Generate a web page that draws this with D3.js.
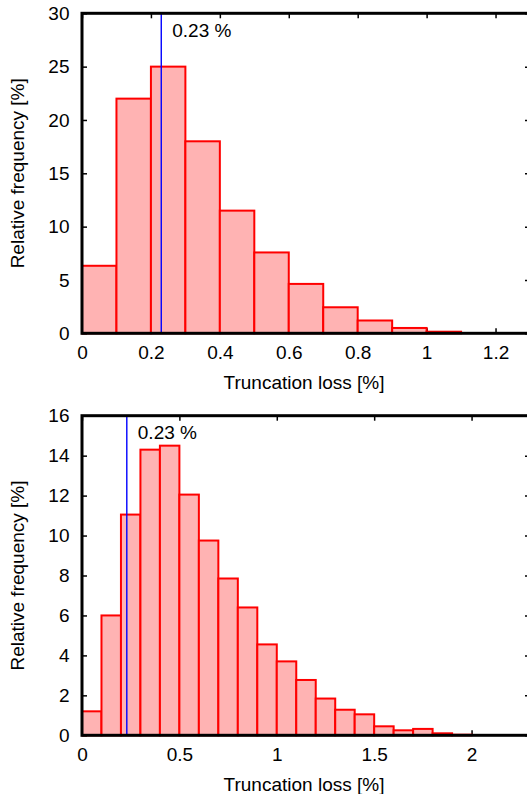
<!DOCTYPE html>
<html>
<head>
<meta charset="utf-8">
<script src="https://cdn.jsdelivr.net/npm/d3@7"></script>
<style>
  html, body { margin: 0; padding: 0; background: #fff; }
  svg { display: block; }
  text { font-family: "Liberation Sans", Arial, Helvetica, sans-serif; }
</style>
</head>
<body>
<script>
// ---------------- data ----------------
const binWidth = 0.1;
const topBinStarts = [0, 0.1, 0.2, 0.3, 0.4, 0.5, 0.6, 0.7, 0.8, 0.9, 1.0];
const topFreq      = [6.33, 22.0, 25.0, 18.0, 11.5, 7.58, 4.63, 2.44, 1.2, 0.5, 0.15];
const bottomBinStarts = [0, 0.1, 0.2, 0.3, 0.4, 0.5, 0.6, 0.7, 0.8, 0.9, 1.0, 1.1, 1.2, 1.3, 1.4, 1.5, 1.6, 1.7, 1.8, 1.9];
const bottomFreq      = [1.2, 6.0, 11.05, 14.3, 14.5, 12.05, 9.75, 7.85, 6.4, 4.55, 3.7, 2.77, 1.84, 1.28, 1.05, 0.45, 0.25, 0.32, 0.1, 0.03];
const markerValue = 0.23;
const markerLabel = "0.23 %";
const topXTicks = [0, 0.2, 0.4, 0.6, 0.8, 1.0, 1.2];
const topYTicks = [0, 5, 10, 15, 20, 25, 30];
const bottomXTicks = [0, 0.5, 1, 1.5, 2];
const bottomYTicks = [0, 2, 4, 6, 8, 10, 12, 14, 16];
const xLabel = "Truncation loss [%]";
const yLabel = "Relative frequency [%]";

// ---------------- drawing ----------------
const W = 527, H = 794;
const svg = d3.select("body").append("svg").attr("width", W).attr("height", H);

const FONT = 19;

function panel(cfg) {
  const x = d3.scaleLinear().domain(cfg.xDomain).range([cfg.left, cfg.right]);
  const y = d3.scaleLinear().domain(cfg.yDomain).range([cfg.bottom, cfg.top]);
  const g = svg.append("g");

  // bottom axis (ticks inward)
  const gx = g.append("g").attr("transform", `translate(0,${cfg.bottom})`)
    .call(d3.axisBottom(x).tickValues(cfg.xTicks).tickSize(-5).tickPadding(12.5)
      .tickFormat(d3.format("~g")));
  // top mirror ticks
  const gxt = g.append("g").attr("transform", `translate(0,${cfg.top})`)
    .call(d3.axisTop(x).tickValues(cfg.xTicks).tickSize(-5).tickFormat(""));
  // left axis
  const gy = g.append("g").attr("transform", `translate(${cfg.left},0)`)
    .call(d3.axisLeft(y).tickValues(cfg.yTicks).tickSize(-5).tickPadding(12.5)
      .tickFormat(d3.format("~g")));
  // right mirror ticks
  const gyr = g.append("g").attr("transform", `translate(${cfg.right},0)`)
    .call(d3.axisRight(y).tickValues(cfg.yTicks).tickSize(-5).tickFormat(""));

  [gx, gxt, gy, gyr].forEach(a => {
    a.select(".domain").remove();
    a.selectAll(".tick line").attr("stroke", "#000").attr("stroke-width", 1.5);
    a.selectAll(".tick text").attr("font-size", FONT).attr("fill", "#000")
      .style("font-family", '"Liberation Sans", Arial, sans-serif');
  });

  // bars
  g.append("g").selectAll("rect")
    .data(cfg.starts.map((s, i) => ({ s, v: cfg.freq[i] })))
    .join("rect")
    .attr("x", d => x(d.s))
    .attr("width", d => x(d.s + binWidth) - x(d.s))
    .attr("y", d => y(d.v))
    .attr("height", d => y(0) - y(d.v))
    .attr("fill", "#ffb3b3")
    .attr("stroke", "#ff0000")
    .attr("stroke-width", 2);

  // marker line
  g.append("line")
    .attr("x1", x(markerValue)).attr("x2", x(markerValue))
    .attr("y1", cfg.top).attr("y2", cfg.bottom)
    .attr("stroke", "#0000ff").attr("stroke-width", 1.4);
  g.append("text")
    .attr("x", x(markerValue) + 11).attr("y", cfg.top + 23.5)
    .attr("font-size", FONT).attr("fill", "#000")
    .text(markerLabel);

  // frame
  g.append("rect")
    .attr("x", cfg.left).attr("y", cfg.top)
    .attr("width", cfg.right - cfg.left).attr("height", cfg.bottom - cfg.top)
    .attr("fill", "none").attr("stroke", "#000").attr("stroke-width", 3);

  // axis labels
  g.append("text")
    .attr("x", (cfg.left + cfg.right) / 2 - 2).attr("y", cfg.bottom + 56)
    .attr("text-anchor", "middle").attr("font-size", FONT).attr("fill", "#000")
    .text(xLabel);
  g.append("text")
    .attr("transform", `translate(24,${(cfg.top + cfg.bottom) / 2}) rotate(-90)`)
    .attr("text-anchor", "middle").attr("font-size", FONT).attr("fill", "#000")
    .text(yLabel);
}

panel({
  left: 82, right: 530, top: 13.3, bottom: 333.3,
  xDomain: [0, 1.3], yDomain: [0, 30],
  xTicks: topXTicks, yTicks: topYTicks,
  starts: topBinStarts, freq: topFreq
});
panel({
  left: 82, right: 530, top: 415.7, bottom: 735.3,
  xDomain: [0, 2.3], yDomain: [0, 16],
  xTicks: bottomXTicks, yTicks: bottomYTicks,
  starts: bottomBinStarts, freq: bottomFreq
});
</script>
</body>
</html>
